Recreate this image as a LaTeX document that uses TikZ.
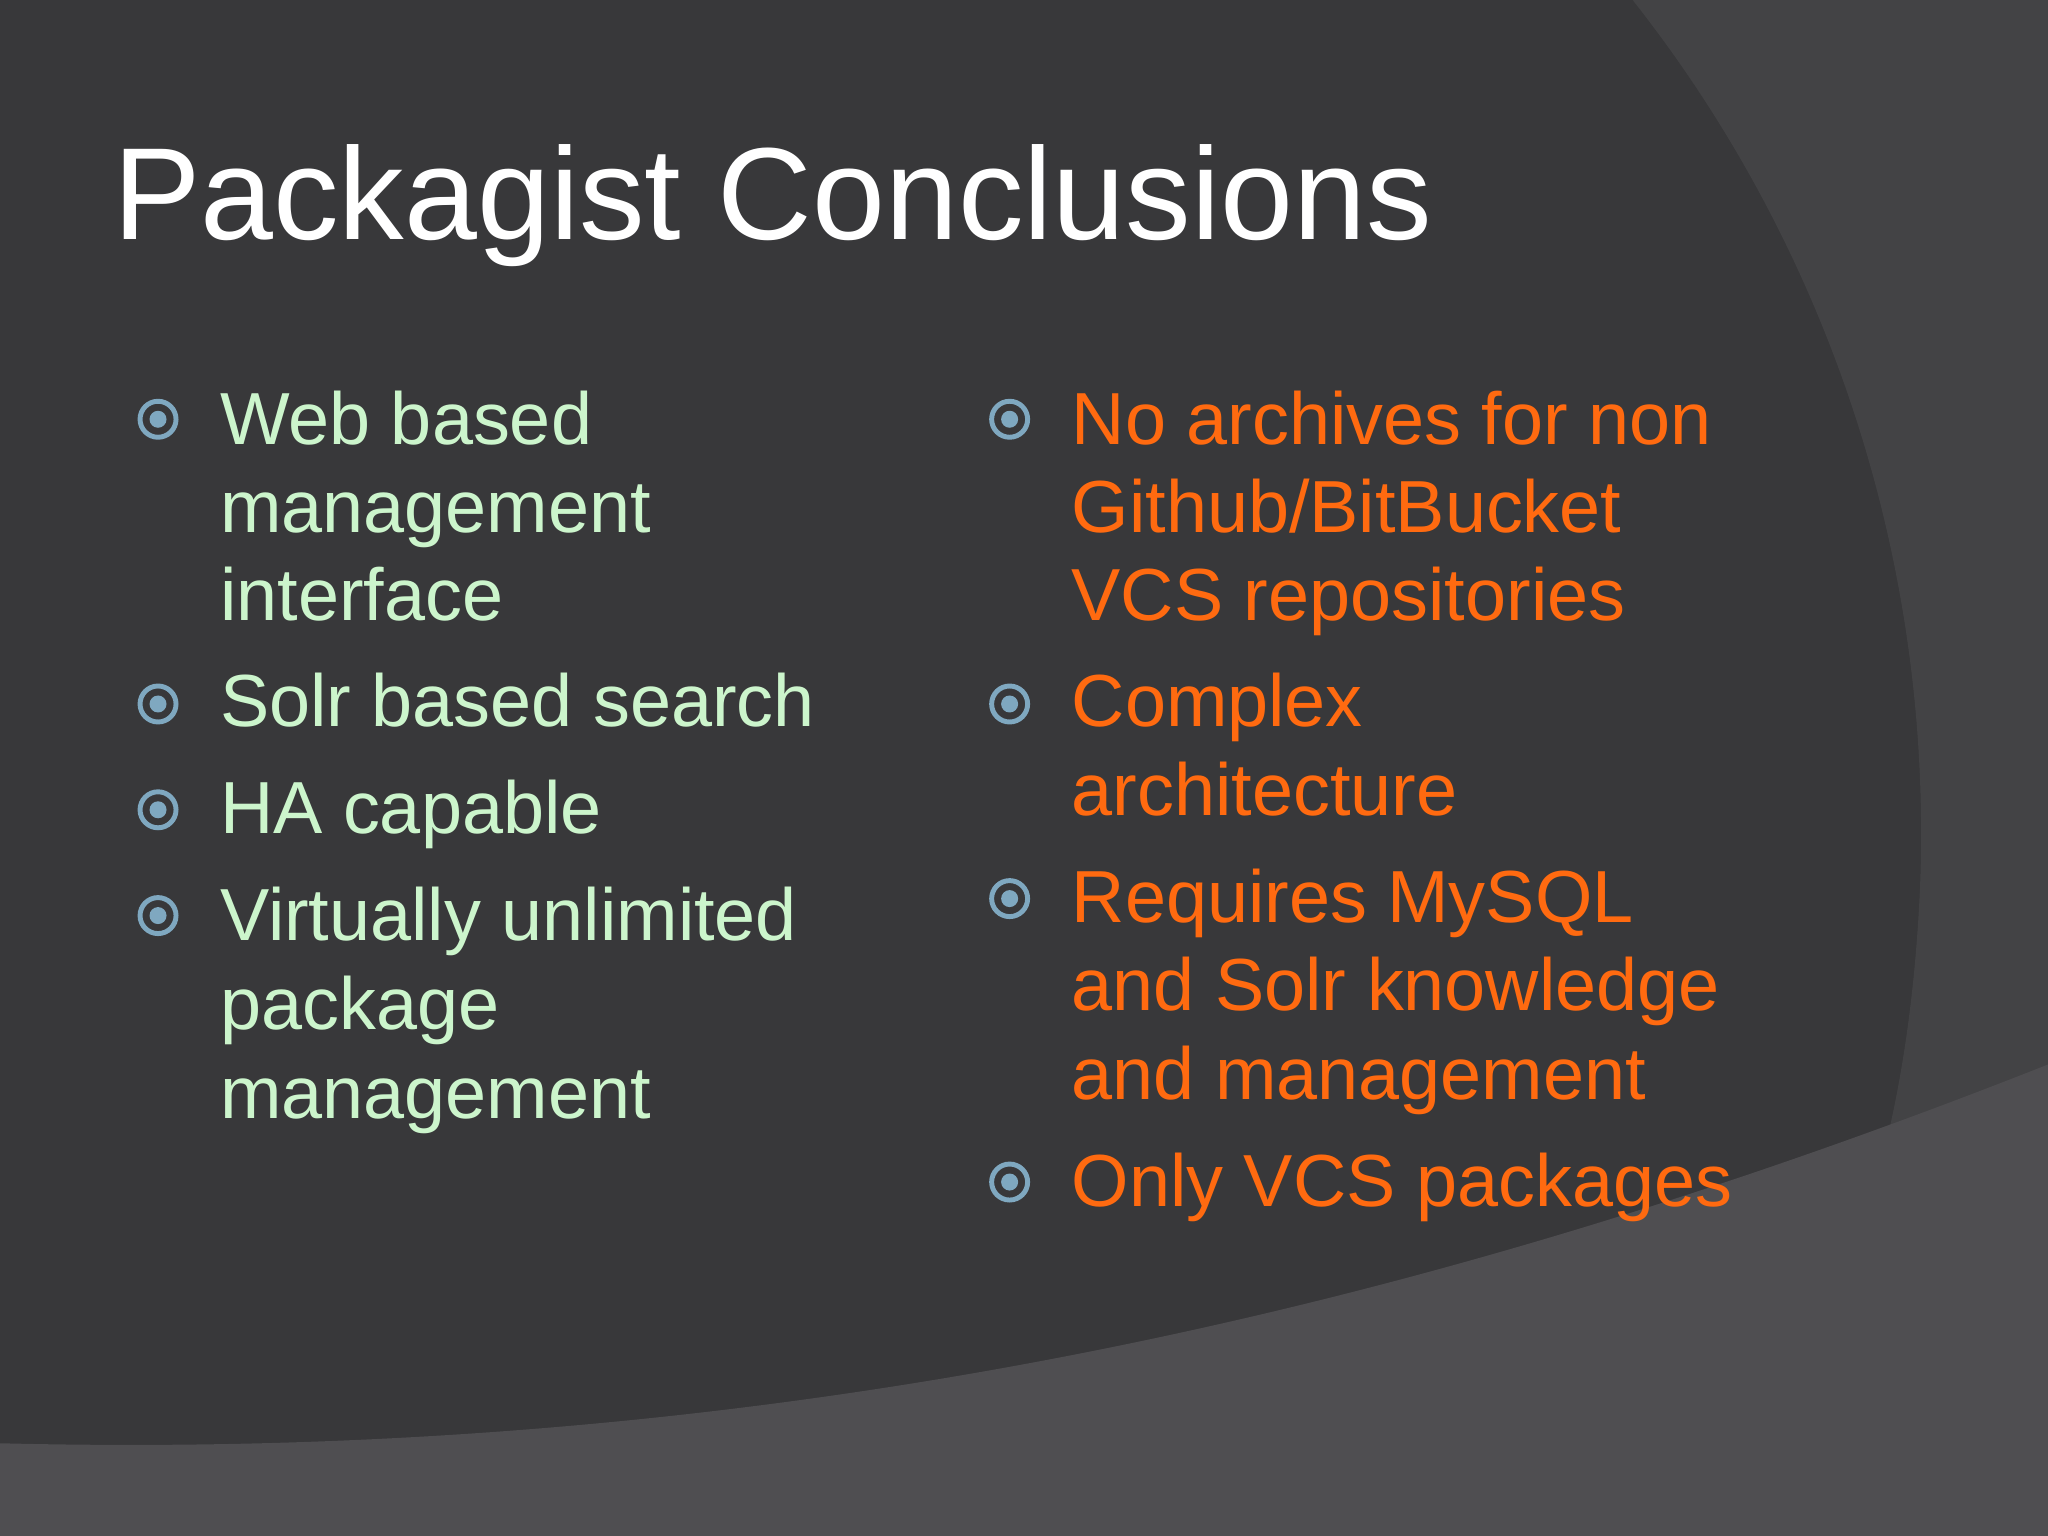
\documentclass[tikz,border=0pt]{standalone}
\usepackage{fontspec}
\setmainfont{Liberation Sans}
\definecolor{bg}{HTML}{38383A}
\definecolor{bgr}{HTML}{434345}
\definecolor{bgb}{HTML}{4F4E51}
\definecolor{gtxt}{HTML}{CCF5CC}
\definecolor{otxt}{HTML}{FF6A10}
\definecolor{bul}{HTML}{7FA8C0}
\tikzset{
 g/.style={anchor=base west,text=gtxt,font=\fontsize{21}{25}\selectfont,inner sep=0},
 o/.style={anchor=base west,text=otxt,font=\fontsize{21}{25}\selectfont,inner sep=0},
 bl/.style={circle,draw=bul,line width=1.4pt,minimum size=0.36cm,inner sep=0,
   path picture={\fill[bul] (path picture bounding box.center) circle (0.085cm);}}
}
\begin{document}
\begin{tikzpicture}[x=0.01306cm,y=-0.01306cm]
\fill[bg] (0,0) rectangle (1568,1176);
\fill[bgr] (1250,0) .. controls (1400,190) and (1480,430) .. (1470,680) .. controls (1460,900) and (1400,1050) .. (1290,1176) -- (1568,1176) -- (1568,0) -- cycle;
\fill[bgb] (0,1105) .. controls (600,1120) and (1100,1000) .. (1568,815) -- (1568,1176) -- (0,1176) -- cycle;
\useasboundingbox (0,0) rectangle (1568,1176);
\node[anchor=base west,text=white,font=\fontsize{37.3}{42}\selectfont,inner sep=0] (title) at (86,183) {Packagist Conclusions};
% left
\node[bl] (b1) at (121,321) {};
\node[g] (l1) at (168,340) {Web based};
\node[g] (l2) at (168,408) {management};
\node[g] (l3) at (168,475) {interface};
\node[bl] (b2) at (121,539) {};
\node[g] (l4) at (168,556) {Solr based search};
\node[bl] (b3) at (121,620) {};
\node[g] (l5) at (168,638) {HA capable};
\node[bl] (b4) at (121,701) {};
\node[g] (l6) at (168,720) {Virtually unlimited};
\node[g] (l7) at (168,788) {package};
\node[g] (l8) at (168,856) {management};
% right
\node[bl] (c1) at (773,321) {};
\node[o] (r1) at (820,340) {No archives for non};
\node[o] (r2) at (820,408) {Github/BitBucket};
\node[o] (r3) at (820,475) {VCS repositories};
\node[bl] (c2) at (773,539) {};
\node[o] (r4) at (820,556) {Complex};
\node[o] (r5) at (820,624) {architecture};
\node[bl] (c3) at (773,688) {};
\node[o] (r6) at (820,706) {Requires MySQL};
\node[o] (r7) at (820,774) {and Solr knowledge};
\node[o] (r8) at (820,842) {and management};
\node[bl] (c4) at (773,905) {};
\node[o] (r9) at (820,924) {Only VCS packages};
\end{tikzpicture}
\end{document}
